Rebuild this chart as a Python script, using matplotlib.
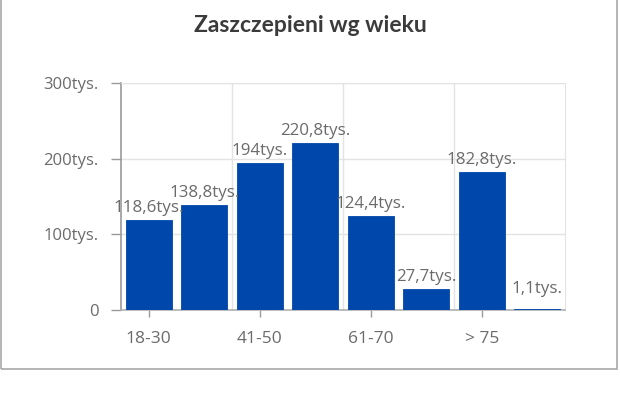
import matplotlib.pyplot as plt
from matplotlib.patches import Rectangle
from matplotlib.transforms import offset_copy

title = "Zaszczepieni wg wieku"
categories = ["18-30", "31-40", "41-50", "51-60", "61-70", "71-75", "> 75", "brak danych"]
values = [118.6, 138.8, 194, 220.8, 124.4, 27.7, 182.8, 1.1]  # tys.
yticks = [0, 100, 200, 300]
ytick_labels = ["0", "100tys.", "200tys.", "300tys."]

text_color = "#6b6b6b"
bar_color = "#0047ab"
grid_color = "#e3e3e3"

plt.rcParams["font.family"] = ["Open Sans", "DejaVu Sans"]

fig = plt.figure(figsize=(6.2, 4.13), dpi=100)
ax = fig.add_axes([121 / 620, 103 / 413, 444 / 620, 227 / 413])

x = list(range(len(categories)))
ax.bar(x, values, width=0.82, color=bar_color, edgecolor=bar_color,
       linewidth=0.6, zorder=3)

# value labels, small bars keep the label a bit above the axis
lab_tr = offset_copy(ax.transData, fig=fig, x=0, y=3, units="points")
for i, v in enumerate(values):
    lab = f"{v:g}".replace(".", ",") + "tys."
    ax.text(i, max(v, 12), lab, transform=lab_tr, ha="center", va="bottom",
            fontsize=12.2, color=text_color, zorder=10)

ax.set_xlim(-0.5, len(categories) - 0.5)
ax.set_ylim(0, 300)

ax.set_xticks(x[::2])
ax.set_xticklabels(categories[::2])
ax.set_xticks([1.5, 3.5, 5.5], minor=True)
ax.set_yticks(yticks)
ax.set_yticklabels(ytick_labels)

ax.grid(axis="y", which="major", color=grid_color, lw=1, zorder=0)
ax.grid(axis="x", which="minor", color=grid_color, lw=1, zorder=0)

ax.tick_params(axis="x", which="major", length=5, width=1, color="#999999",
               labelsize=12.5, labelcolor=text_color, pad=10)
ax.tick_params(axis="x", which="minor", length=0)
ax.tick_params(axis="y", length=7, width=1, color="#999999",
               labelsize=12, labelcolor=text_color, pad=9)

ax.spines["left"].set_color("#9a9a9a")
ax.spines["left"].set_linewidth(1.2)
ax.spines["bottom"].set_color("#b0b0b0")
ax.spines["bottom"].set_linewidth(1.2)
ax.spines["top"].set_color(grid_color)
ax.spines["right"].set_color(grid_color)

fig.text(0.5, 1 - 25 / 413, title, ha="center", va="center", fontsize=16.5,
         fontweight="bold", color="#3b3b3b", family=["Lato", "DejaVu Sans"])

# outer frame of the card
fig.patches.append(Rectangle((0.8 / 620, 44 / 413), 616 / 620, 372 / 413,
                             transform=fig.transFigure, fill=False,
                             edgecolor="#a8a8a8", lw=1.2))

fig.savefig("out.png", dpi=100)
